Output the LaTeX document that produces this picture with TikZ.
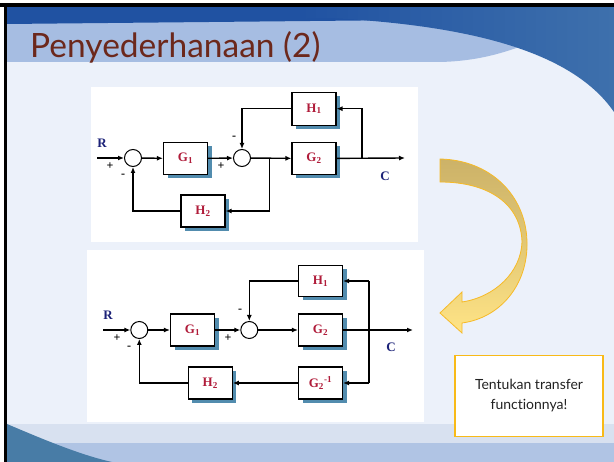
\documentclass[tikz,border=0pt]{standalone}
\usepackage{fontspec}
\setmainfont{Liberation Serif}
\newfontfamily\slidefont[Ligatures=NoCommon]{Lato}
\usetikzlibrary{arrows.meta,shadows}

\definecolor{slidebg}{RGB}{236,241,250}
\definecolor{bandlight}{RGB}{166,189,226}
\definecolor{bandtop}{RGB}{32,82,162}
\definecolor{swooshlight}{RGB}{62,112,172}
\definecolor{bottomlight}{RGB}{216,225,240}
\definecolor{bottomdark}{RGB}{176,196,228}
\definecolor{tealblue}{RGB}{72,124,166}
\definecolor{titlebrown}{RGB}{108,40,28}
\definecolor{blockred}{RGB}{176,28,58}
\definecolor{labelblue}{RGB}{28,34,120}
\definecolor{shadowblue}{RGB}{82,140,174}
\definecolor{arrowdark}{RGB}{204,178,104}
\definecolor{arrowlight}{RGB}{255,228,134}
\definecolor{arrowedge}{RGB}{246,186,40}
\definecolor{boxgold}{RGB}{248,186,24}
\definecolor{textgrey}{RGB}{34,34,34}

\tikzset{
  blk/.style={draw, line width=1.1pt, fill=white, minimum width=44pt, minimum height=32pt,
    inner sep=0pt, font=\bfseries\fontsize{13}{14}\selectfont, text=blockred,
    drop shadow={shadow xshift=4pt, shadow yshift=-4pt, fill=shadowblue, opacity=1}},
  sumj/.style={circle, draw, line width=1pt, minimum size=17pt, inner sep=0pt},
  sig/.style={line width=1.4pt, -{Latex[length=6pt,width=5pt]}},
  wire/.style={line width=1.4pt},
  sgn/.style={font=\bfseries\fontsize{12}{12}\selectfont, inner sep=0pt},
  lbl/.style={font=\bfseries\fontsize{13}{14}\selectfont, text=labelblue, inner sep=0pt}
}

\begin{document}
\begin{tikzpicture}[x=1pt,y=-1pt]
  \useasboundingbox (0,0) rectangle (614,462);
  %%%%% SLIDE BACKGROUND %%%%%
  \fill[white] (0,0) rectangle (614,462);
  \fill[slidebg] (7,7) rectangle (614,462);
  \fill[bandlight] (7,20) -- (614,20) -- (614,30) -- (525,45)
    .. controls (505,52) and (480,61) .. (440,62) -- (7,62) -- cycle;
  \fill[bandtop] (7,7) -- (614,7) -- (614,18) -- (7,24) -- cycle;
  \shade[left color=bandtop, right color=swooshlight] (300,7) -- (614,7) -- (614,112)
    .. controls (570,48) and (460,25) .. (330,18) -- (300,19) -- cycle;
  \fill[bottomlight] (7,424) rectangle (614,443);
  \fill[bottomdark] (7,443) rectangle (614,462);
  \fill[tealblue] (7,424) .. controls (40,438) and (80,455) .. (112,462) -- (7,462) -- cycle;
  \fill[black] (0,3) rectangle (614,7);
  \fill[black] (4,3) rectangle (7,462);

  \node[anchor=base west, inner sep=0pt, font=\slidefont\fontsize{33.5}{40}\selectfont,
    text=titlebrown] (title) at (30,58) {Penyederhanaan (2)};

  %%%%% FIRST DIAGRAM %%%%%
  \fill[white] (91,87) rectangle (418,242);
  \node[sumj] (sa1) at (133,158) {};
  \node[blk] (ga1) at (185.5,158.5) {G\textsubscript{1}};
  \node[sumj] (sb1) at (242,158) {};
  \node[blk] (gb1) at (314,158.5) {G\textsubscript{2}};
  \node[blk, minimum height=33pt] (ha1) at (314,108.7) {H\textsubscript{1}};
  \node[blk] (hb1) at (203,211) {H\textsubscript{2}};
  \coordinate (in1) at (97,158);
  \coordinate (out1) at (405,158);
  \coordinate (tk1) at (362,158);
  \coordinate (dk1) at (269.5,158);

  \draw[sig] (in1) -- (sa1);
  \draw[sig] (sa1) -- (ga1);
  \draw[sig] (ga1) -- (sb1);
  \draw[sig] (sb1) -- (gb1);
  \draw[sig] (gb1) -- (out1);
  \draw[sig] (tk1) |- (ha1);
  \draw[sig] (ha1) -| (sb1);
  \draw[sig, line width=1.7pt] (dk1) |- (hb1);
  \draw[sig, line width=1.7pt] (hb1) -| (sa1);

  \node[lbl] (r1) at (102,143) {R};
  \node[lbl] (c1) at (385,176) {C};
  \node[sgn] at (110,166) {+};
  \node[sgn] at (123,176) {-};
  \node[sgn] at (221,166) {+};
  \node[sgn] at (234,138) {-};

  %%%%% SECOND DIAGRAM %%%%%
  \fill[white] (87,250) rectangle (424,422);
  \node[sumj] (sa2) at (139.3,330) {};
  \node[blk] (ga2) at (192.5,330) {G\textsubscript{1}};
  \node[sumj] (sb2) at (249.3,330) {};
  \node[blk] (gb2) at (320.5,330) {G\textsubscript{2}};
  \node[blk, minimum height=31pt] (ha2) at (320.5,281) {H\textsubscript{1}};
  \node[blk] (gi2) at (320.5,383) {G\textsubscript{2}\textsuperscript{-1}};
  \node[blk] (hb2) at (210.3,383) {H\textsubscript{2}};
  \coordinate (in2) at (103.3,330);
  \coordinate (out2) at (413,330);
  \coordinate (tk2) at (369,281);
  \coordinate (dk2) at (369,383);

  \draw[sig] (in2) -- (sa2);
  \draw[sig] (sa2) -- (ga2);
  \draw[sig] (ga2) -- (sb2);
  \draw[sig] (sb2) -- (gb2);
  \draw[sig] (gb2) -- (out2);
  \draw[wire] (tk2) -- (dk2);
  \draw[sig] (tk2) -- (ha2);
  \draw[sig] (ha2) -| (sb2);
  \draw[sig] (dk2) -- (gi2);
  \draw[sig] (gi2) -- (hb2);
  \draw[sig] (hb2) -| (sa2);

  \node[lbl] (r2) at (108,315) {R};
  \node[lbl] (c2) at (391,347) {C};
  \node[sgn] at (117,338) {+};
  \node[sgn] at (129,348) {-};
  \node[sgn] at (228,338) {+};
  \node[sgn] at (240,311) {-};

  %%%%% TURN ARROW AND TASK %%%%%
  \shade[draw=arrowedge, line width=0.8pt, top color=arrowdark, bottom color=arrowlight,
    middle color=arrowdark!55!arrowlight]
    (440,159) .. controls (490,160) and (526,195) .. (527,242)
    .. controls (528,285) and (500,318) .. (462,323) -- (462,333) -- (440,313)
    -- (462,292) -- (462,302) .. controls (495,297) and (521,272) .. (522,242)
    .. controls (521,205) and (490,182) .. (440,182) -- cycle;

  \node[draw=boxgold, line width=1.5pt, fill=white, minimum width=148pt, minimum height=81pt,
    align=center, font=\slidefont\fontsize{14}{20}\selectfont, text=textgrey]
    (task) at (529,396) {Tentukan transfer\\functionnya!};
\end{tikzpicture}
\end{document}
